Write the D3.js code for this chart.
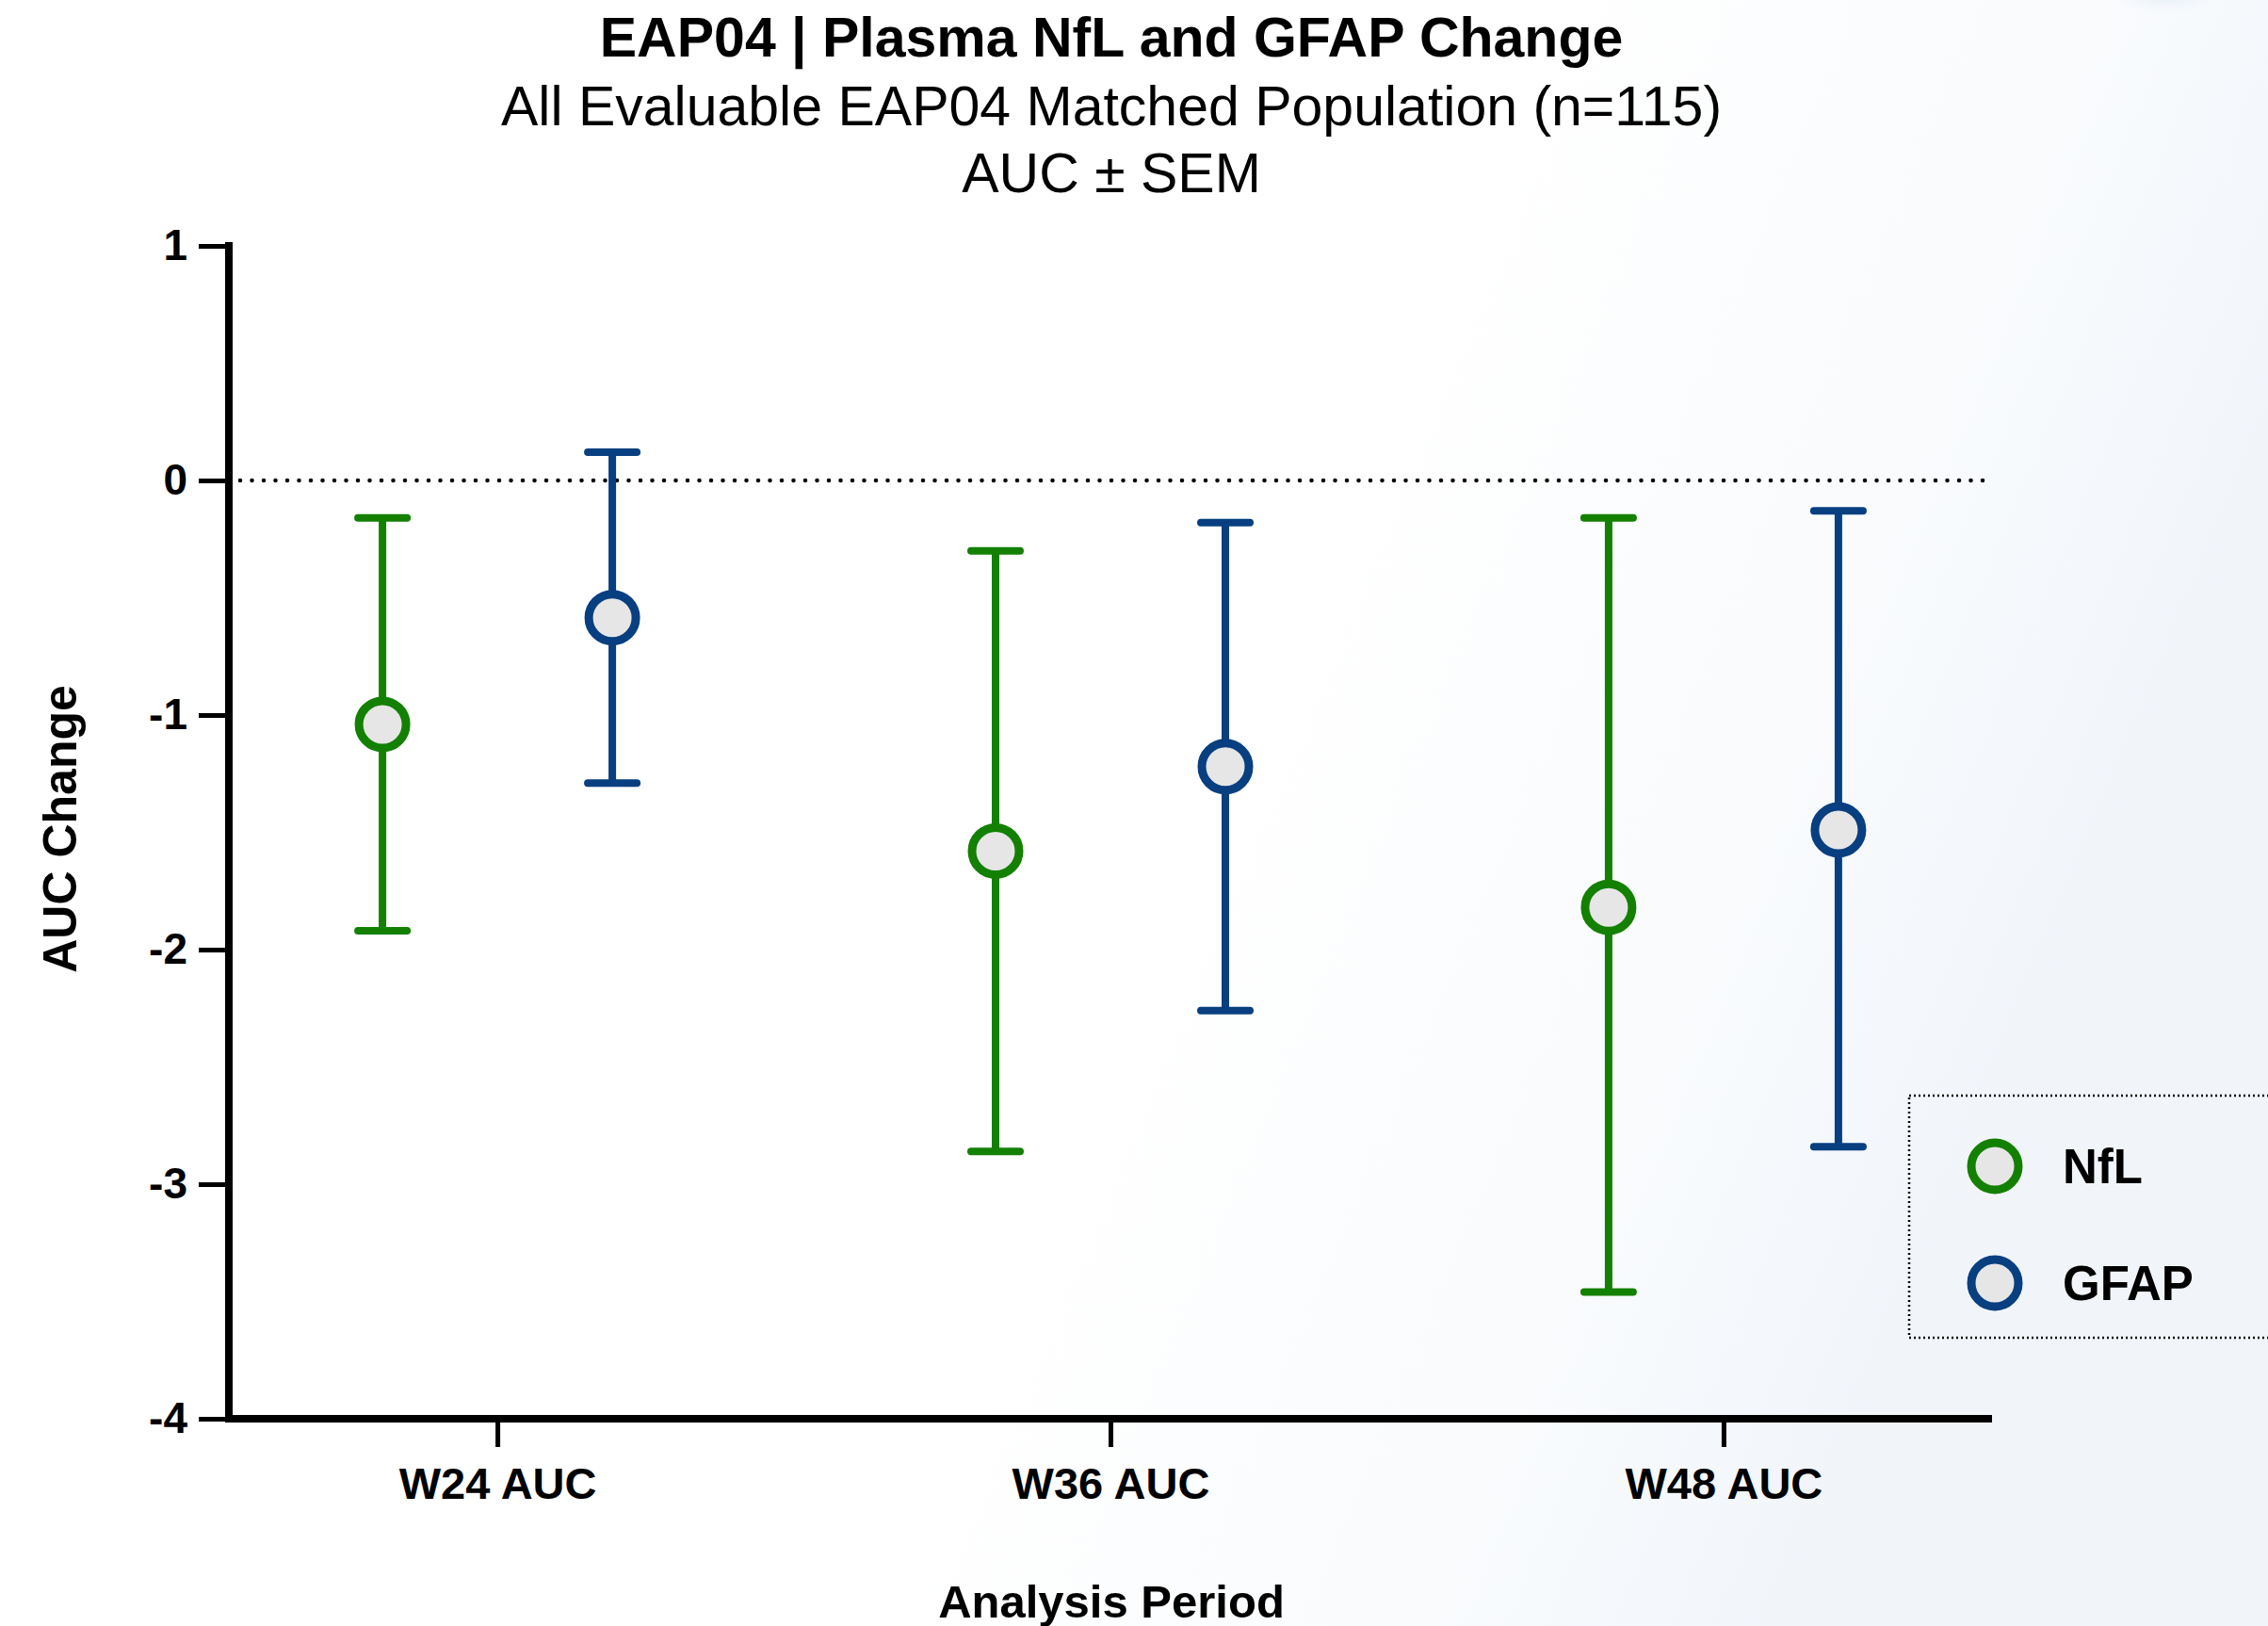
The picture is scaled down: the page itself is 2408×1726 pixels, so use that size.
<!DOCTYPE html>
<html>
<head>
<meta charset="utf-8">
<script src="https://cdn.jsdelivr.net/npm/d3@7"></script>
<style>
  html, body { margin: 0; padding: 0; background: #fff; }
  svg { display: block; font-family: "Liberation Sans", Arial, Helvetica, sans-serif; }
</style>
</head>
<body>
<svg id="chart" width="2408" height="1726"></svg>
<script>
// ---- data ----
const categories = ["W24 AUC", "W36 AUC", "W48 AUC"];
const seriesNames = ["NfL", "GFAP"];
const nflMean  = [-1.04, -1.58, -1.82];
const nflLow   = [-1.92, -2.86, -3.46];
const nflHigh  = [-0.16, -0.30, -0.16];
const gfapMean = [-0.585, -1.22, -1.49];
const gfapLow  = [-1.29, -2.26, -2.84];
const gfapHigh = [0.12, -0.18, -0.13];
const yTicks = [1, 0, -1, -2, -3, -4];
const seriesColors = ["#138000", "#073f80"];

const svg = d3.select("#chart");
const W = 2408, H = 1726;

// background gradient
const defs = svg.append("defs");
const grad = defs.append("linearGradient").attr("id", "bg").attr("x1", "0").attr("y1", "0").attr("x2", "1").attr("y2", "0.3");
grad.append("stop").attr("offset", "0.62").attr("stop-color", "#ffffff");
grad.append("stop").attr("offset", "0.85").attr("stop-color", "#f9fbfd");
grad.append("stop").attr("offset", "1").attr("stop-color", "#f1f5fa");
svg.append("rect").attr("width", W).attr("height", H).attr("fill", "url(#bg)");
const rg = defs.append("radialGradient").attr("id", "blob");
rg.append("stop").attr("offset", "0").attr("stop-color", "#d8e7f2").attr("stop-opacity", 0.9);
rg.append("stop").attr("offset", "1").attr("stop-color", "#eef3f9").attr("stop-opacity", 0);
svg.append("ellipse").attr("cx", 2300).attr("cy", -10).attr("rx", 60).attr("ry", 25).attr("fill", "url(#blob)");

const x = d3.scalePoint().domain(categories).range([243, 2115]).padding(0.438);
const y = d3.scaleLinear().domain([-4, 1]).range([1506, 261]);
const offset = { "NfL": -122, "GFAP": 122 };

// titles
svg.append("text").attr("x", 1180).attr("y", 60).attr("text-anchor", "middle")
  .attr("font-weight", "bold").attr("font-size", 59).text("EAP04 | Plasma NfL and GFAP Change");
svg.append("text").attr("x", 1180).attr("y", 133).attr("text-anchor", "middle")
  .attr("font-size", 59).text("All Evaluable EAP04 Matched Population (n=115)");
svg.append("text").attr("x", 1180).attr("y", 204).attr("text-anchor", "middle")
  .attr("font-size", 59).text("AUC \u00B1 SEM");

// zero line
svg.append("line").attr("x1", 255).attr("x2", 2115).attr("y1", y(0)).attr("y2", y(0))
  .attr("stroke", "#000").attr("stroke-width", 4.5).attr("stroke-linecap", "round")
  .attr("stroke-dasharray", "0 12.5");

// y axis
const yAxis = svg.append("g").attr("transform", "translate(243,0)")
  .call(d3.axisLeft(y).tickValues(yTicks).tickSize(32).tickSizeOuter(0).tickPadding(12).tickFormat(d => String(d)));
yAxis.select(".domain").attr("stroke-width", 8).attr("d", `M0,${y(1) - 4}V${y(-4) + 4}`);
yAxis.selectAll(".tick line").attr("stroke-width", 5);
yAxis.selectAll(".tick text").attr("font-size", 46).attr("font-weight", "bold").attr("fill", "#000")
  .attr("font-family", "'Liberation Sans', Arial, sans-serif");

// x axis
const xAxis = svg.append("g").attr("transform", "translate(0,1506)")
  .call(d3.axisBottom(x).tickSize(30).tickSizeOuter(0).tickPadding(22));
xAxis.select(".domain").attr("stroke-width", 8).attr("d", `M239,0H2115`);
xAxis.selectAll(".tick line").attr("stroke-width", 5);
xAxis.selectAll(".tick text").attr("font-size", 47).attr("font-weight", "bold").attr("fill", "#000")
  .attr("font-family", "'Liberation Sans', Arial, sans-serif");

// axis titles
svg.append("text").attr("transform", "translate(81,880) rotate(-90)").attr("text-anchor", "middle")
  .attr("font-weight", "bold").attr("font-size", 50).text("AUC Change");
svg.append("text").attr("x", 1180).attr("y", 1717).attr("text-anchor", "middle")
  .attr("font-weight", "bold").attr("font-size", 49).text("Analysis Period");

// data
const series = [
  { name: "NfL", mean: nflMean, low: nflLow, high: nflHigh, color: seriesColors[0] },
  { name: "GFAP", mean: gfapMean, low: gfapLow, high: gfapHigh, color: seriesColors[1] }
];
series.forEach(s => {
  const g = svg.append("g");
  const pts = categories.map((c, i) => ({ cx: x(c) + offset[s.name], m: s.mean[i], lo: s.low[i], hi: s.high[i] }));
  g.selectAll("line.bar").data(pts).join("line")
    .attr("x1", d => d.cx).attr("x2", d => d.cx).attr("y1", d => y(d.hi)).attr("y2", d => y(d.lo))
    .attr("stroke", s.color).attr("stroke-width", 8);
  ["hi", "lo"].forEach(k => {
    g.selectAll("line.cap" + k).data(pts).join("line")
      .attr("x1", d => d.cx - 26).attr("x2", d => d.cx + 26).attr("y1", d => y(d[k])).attr("y2", d => y(d[k]))
      .attr("stroke", s.color).attr("stroke-width", 8).attr("stroke-linecap", "round");
  });
  g.selectAll("circle").data(pts).join("circle")
    .attr("cx", d => d.cx).attr("cy", d => y(d.m)).attr("r", 25)
    .attr("fill", "#e6e6e6").attr("stroke", s.color).attr("stroke-width", 9);
});

// legend
svg.append("rect").attr("x", 2027).attr("y", 1163).attr("width", 420).attr("height", 257)
  .attr("fill", "none").attr("stroke", "#000").attr("stroke-width", 2.5).attr("stroke-dasharray", "2 3");
const legY = [1238, 1362];
seriesNames.forEach((n, i) => {
  svg.append("circle").attr("cx", 2118).attr("cy", legY[i]).attr("r", 25)
    .attr("fill", "#e6e6e6").attr("stroke", seriesColors[i]).attr("stroke-width", 9);
  svg.append("text").attr("x", 2190).attr("y", legY[i]).attr("dy", "0.36em")
    .attr("font-weight", "bold").attr("font-size", 51).text(n);
});
</script>
</body>
</html>
